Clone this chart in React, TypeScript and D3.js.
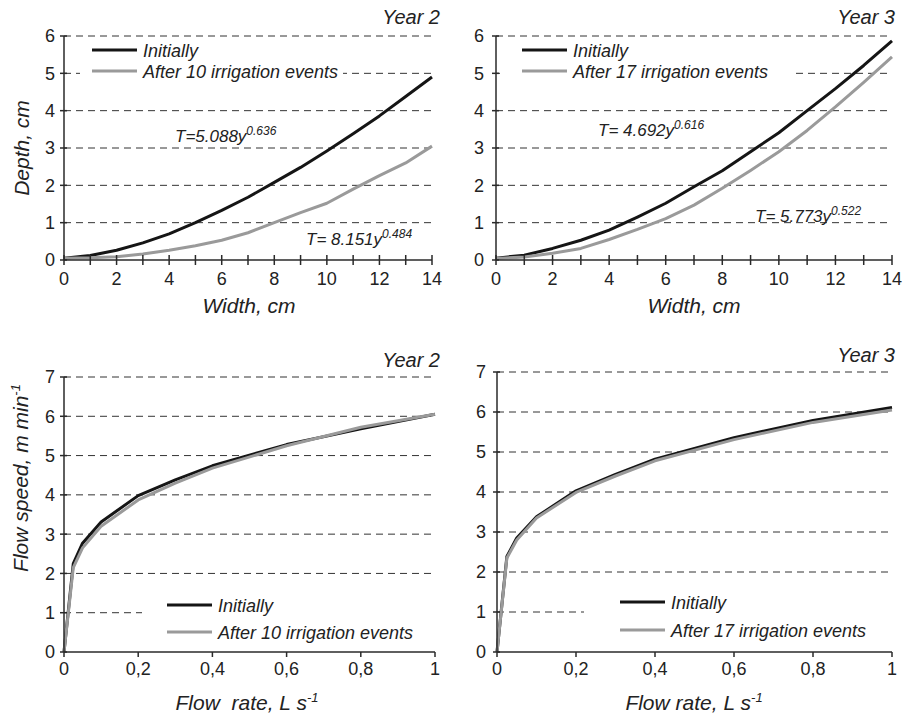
import React from "react";
import * as d3 from "d3";

// ---------- data ----------
const widthX = [0, 1, 2, 3, 4, 5, 6, 7, 8, 9, 10, 11, 12, 13, 14];
const y2Initially = [0.05, 0.12, 0.26, 0.46, 0.7, 1.0, 1.33, 1.68, 2.08, 2.48, 2.92, 3.38, 3.86, 4.38, 4.9];
const y2After = [0.05, 0.06, 0.09, 0.16, 0.26, 0.38, 0.53, 0.73, 1.0, 1.27, 1.52, 1.9, 2.26, 2.6, 3.05];
const y3Initially = [0.05, 0.13, 0.31, 0.53, 0.8, 1.15, 1.52, 1.96, 2.39, 2.9, 3.41, 4.0, 4.59, 5.21, 5.87];
const y3After = [0.04, 0.08, 0.18, 0.31, 0.55, 0.82, 1.11, 1.47, 1.92, 2.4, 2.9, 3.47, 4.1, 4.76, 5.44];

const flowX = [0, 0.025, 0.05, 0.1, 0.2, 0.3, 0.4, 0.6, 0.8, 1.0];
const f2Initially = [0, 2.25, 2.77, 3.31, 3.98, 4.38, 4.74, 5.28, 5.68, 6.05];
const f2After = [0, 2.15, 2.65, 3.2, 3.87, 4.3, 4.68, 5.25, 5.72, 6.05];
const f3Initially = [0, 2.39, 2.85, 3.38, 4.03, 4.44, 4.82, 5.36, 5.79, 6.11];
const f3After = [0, 2.35, 2.8, 3.35, 3.99, 4.4, 4.78, 5.31, 5.74, 6.05];

const widthTicks = [0, 2, 4, 6, 8, 10, 12, 14];
const depthTicks = [0, 1, 2, 3, 4, 5, 6];
const flowTicks = [0, 0.2, 0.4, 0.6, 0.8, 1];
const flowTickLabels = ["0", "0,2", "0,4", "0,6", "0,8", "1"];
const speedTicks = [0, 1, 2, 3, 4, 5, 6, 7];

const seriesNames = ["Initially", "After 10 irrigation events", "After 17 irrigation events"];
const yearLabels = ["Year 2", "Year 3"];

const FONT = "'Liberation Sans', Arial, Helvetica, sans-serif";
const BLACK = "#151515";
const GRAY = "#9a9a9a";
const AXIS = "#2a2a2a";

type PanelProps = {
  x0: number; x1: number; yTop: number; yBot: number;
  xDomain: [number, number]; yDomain: [number, number];
  xs: number[]; a: number[]; b: number[];
  xTicks: number[]; xTickLabels: string[]; minorX: number[];
  yTicks: number[];
  legendName: string; legendX: number; legendY1: number; legendY2: number;
  maskX0: number; maskX1: number; maskY0: number; maskY1: number;
  year: string; yearX: number; yearY: number;
  xLabelBase: number;
  yLabelRight: number;
  crossX: boolean;
};

function Panel(p: PanelProps) {
  const x = d3.scaleLinear().domain(p.xDomain).range([p.x0, p.x1]);
  const y = d3.scaleLinear().domain(p.yDomain).range([p.yBot, p.yTop]);
  const line = d3.line<number>().x((_, i) => x(p.xs[i])).y((d) => y(d));
  return (
    <g>
      {p.yTicks.filter((t) => t > 0).map((t) => (
        <line key={"g" + t} x1={p.x0} x2={p.x1} y1={y(t)} y2={y(t)} stroke="#333" strokeWidth={1} strokeDasharray="7,5" />
      ))}
      <rect x={p.maskX0} y={p.maskY0} width={p.maskX1 - p.maskX0} height={p.maskY1 - p.maskY0} fill="#fff" />
      <path d={line(p.a) || ""} fill="none" stroke={BLACK} strokeWidth={3} strokeLinejoin="round" />
      <path d={line(p.b) || ""} fill="none" stroke={GRAY} strokeWidth={3} strokeLinejoin="round" />
      <line x1={p.x0} x2={p.x0} y1={p.yTop} y2={p.yBot} stroke={AXIS} strokeWidth={1.5} />
      <line x1={p.x0} x2={p.x1} y1={p.yBot} y2={p.yBot} stroke={AXIS} strokeWidth={1.5} />
      {p.yTicks.map((t) => (
        <g key={"yt" + t}>
          <line x1={p.x0 - 4} x2={p.x0 + 3} y1={y(t)} y2={y(t)} stroke={AXIS} strokeWidth={1.5} />
          <text x={p.yLabelRight} y={y(t)} dy="0.36em" textAnchor="end" fontFamily={FONT} fontSize={18} fill="#222">{t}</text>
        </g>
      ))}
      {p.minorX.map((t) => (
        <line key={"xt" + t} x1={x(t)} x2={x(t)} y1={p.yBot + 5} y2={p.crossX ? p.yBot - 5 : p.yBot} stroke={AXIS} strokeWidth={1.5} />
      ))}
      {p.xTicks.map((t, i) => (
        <text key={"xl" + t} x={x(t)} y={p.xLabelBase} textAnchor="middle" fontFamily={FONT} fontSize={18} fill="#222">{p.xTickLabels[i]}</text>
      ))}
      <line x1={p.legendX} x2={p.legendX + 45} y1={p.legendY1} y2={p.legendY1} stroke={BLACK} strokeWidth={3} />
      <line x1={p.legendX} x2={p.legendX + 45} y1={p.legendY2} y2={p.legendY2} stroke={GRAY} strokeWidth={3} />
      <text x={p.legendX + 51} y={p.legendY1 + 7} fontFamily={FONT} fontStyle="italic" fontSize={18} fill="#222">{seriesNames[0]}</text>
      <text x={p.legendX + 51} y={p.legendY2 + 7} fontFamily={FONT} fontStyle="italic" fontSize={18} fill="#222">{p.legendName}</text>
      <text x={p.yearX} y={p.yearY} textAnchor="end" fontFamily={FONT} fontStyle="italic" fontSize={20} fill="#222">{p.year}</text>
    </g>
  );
}

function Eq({ x, y, coef, exp }: { x: number; y: number; coef: string; exp: string }) {
  return (
    <text x={x} y={y} fontFamily={FONT} fontStyle="italic" fontSize={17} fill="#222" style={{ whiteSpace: "pre" }}>
      {coef}
      <tspan dy={-7} fontSize={12}>{exp}</tspan>
    </text>
  );
}

export default function App() {
  return (
    <svg width={904} height={716} style={{ position: "absolute", left: 0, top: 0, background: "#fff" }}>
      <rect x={0} y={0} width={904} height={716} fill="#fff" />
      <Panel x0={64} x1={432} yTop={36} yBot={260} xDomain={[0, 14]} yDomain={[0, 6]}
        xs={widthX} a={y2Initially} b={y2After}
        xTicks={widthTicks} xTickLabels={widthTicks.map(String)} minorX={widthX} yTicks={depthTicks}
        legendName={seriesNames[1]} legendX={92} legendY1={50} legendY2={71}
        maskX0={80} maskX1={343} maskY0={41} maskY1={80}
        year={yearLabels[0]} yearX={440} yearY={24} xLabelBase={285} yLabelRight={55} crossX={true} />
      <Panel x0={496} x1={892} yTop={36} yBot={260} xDomain={[0, 14]} yDomain={[0, 6]}
        xs={widthX} a={y3Initially} b={y3After}
        xTicks={widthTicks} xTickLabels={widthTicks.map(String)} minorX={widthX} yTicks={depthTicks}
        legendName={seriesNames[2]} legendX={522} legendY1={50} legendY2={71}
        maskX0={500} maskX1={793} maskY0={41} maskY1={80}
        year={yearLabels[1]} yearX={895} yearY={24} xLabelBase={285} yLabelRight={484} crossX={true} />
      <Panel x0={64} x1={435} yTop={377} yBot={652} xDomain={[0, 1]} yDomain={[0, 7]}
        xs={flowX} a={f2Initially} b={f2After}
        xTicks={flowTicks} xTickLabels={flowTickLabels} minorX={flowTicks} yTicks={speedTicks}
        legendName={seriesNames[1]} legendX={167} legendY1={605} legendY2={632}
        maskX0={142} maskX1={440} maskY0={588} maskY1={645}
        year={yearLabels[0]} yearX={440} yearY={367} xLabelBase={675} yLabelRight={55} crossX={false} />
      <Panel x0={497} x1={892} yTop={372} yBot={652} xDomain={[0, 1]} yDomain={[0, 7]}
        xs={flowX} a={f3Initially} b={f3After}
        xTicks={flowTicks} xTickLabels={flowTickLabels} minorX={flowTicks} yTicks={speedTicks}
        legendName={seriesNames[2]} legendX={620} legendY1={602} legendY2={630}
        maskX0={584} maskX1={895} maskY0={588} maskY1={645}
        year={yearLabels[1]} yearX={895} yearY={362} xLabelBase={675} yLabelRight={486} crossX={false} />

      <Eq x={175} y={142} coef="T=5.088y" exp="0.636" />
      <Eq x={306} y={245} coef="T= 8.151y" exp="0.484" />
      <Eq x={598} y={136} coef="T= 4.692y" exp="0.616" />
      <Eq x={755} y={222} coef="T= 5.773y" exp="0.522" />

      <text x={249} y={313} textAnchor="middle" fontFamily={FONT} fontStyle="italic" fontSize={21} fill="#222">Width, cm</text>
      <text x={694} y={313} textAnchor="middle" fontFamily={FONT} fontStyle="italic" fontSize={21} fill="#222">Width, cm</text>
      <text transform="translate(29,148) rotate(-90)" textAnchor="middle" fontFamily={FONT} fontStyle="italic" fontSize={21} fill="#222">Depth, cm</text>
      <text transform="translate(28,478) rotate(-90)" textAnchor="middle" fontFamily={FONT} fontStyle="italic" fontSize={21} fill="#222">
        Flow speed, m min<tspan dy={-8} fontSize={13}>-1</tspan>
      </text>
      <text x={247} y={710} textAnchor="middle" fontFamily={FONT} fontStyle="italic" fontSize={21} fill="#222" style={{ whiteSpace: "pre" }}>
        {"Flow  rate, L s"}<tspan dy={-8} fontSize={13}>-1</tspan>
      </text>
      <text x={694} y={710} textAnchor="middle" fontFamily={FONT} fontStyle="italic" fontSize={21} fill="#222">
        Flow rate, L s<tspan dy={-8} fontSize={13}>-1</tspan>
      </text>
    </svg>
  );
}
